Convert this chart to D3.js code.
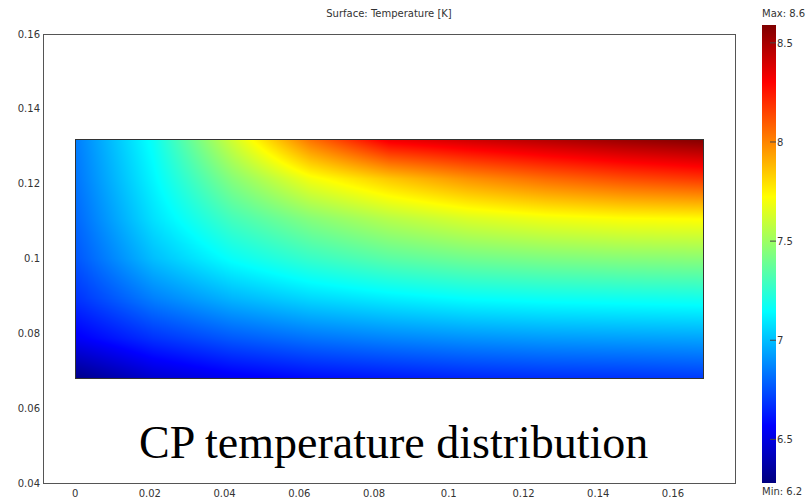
<!DOCTYPE html>
<html>
<head>
<meta charset="utf-8">
<script src="https://cdn.jsdelivr.net/npm/d3@7"></script>
<style>
  body { margin: 0; background: #fff; }
  text { font-family: "DejaVu Sans", sans-serif; }
</style>
</head>
<body>
<svg id="chart" width="812" height="501"></svg>
<script>
// tick labels
var xTicks = [0, 0.02, 0.04, 0.06, 0.08, 0.1, 0.12, 0.14, 0.16];
var yTicks = [0.04, 0.06, 0.08, 0.1, 0.12, 0.14, 0.16];
var barTicks = [6.5, 7, 7.5, 8, 8.5];

// sample points of the surface (m)
var gridX = [0, 0.021, 0.042, 0.063, 0.084, 0.105, 0.126, 0.147, 0.168];
var gridY = [0.132, 0.121, 0.111, 0.100, 0.089, 0.079, 0.068];

// temperature [K] at each sample, one row per gridY
var temps = [
  [6.85, 7.17, 7.62, 8.05, 8.35, 8.42, 8.48, 8.54, 8.59],
  [6.83, 7.13, 7.45, 7.70, 7.85, 7.97, 8.06, 8.13, 8.18],
  [6.80, 7.08, 7.30, 7.45, 7.56, 7.64, 7.69, 7.72, 7.73],
  [6.76, 7.00, 7.16, 7.27, 7.35, 7.40, 7.43, 7.45, 7.46],
  [6.68, 6.86, 6.98, 7.06, 7.11, 7.15, 7.17, 7.18, 7.19],
  [6.55, 6.68, 6.77, 6.83, 6.87, 6.90, 6.92, 6.93, 6.94],
  [6.30, 6.46, 6.54, 6.59, 6.62, 6.65, 6.67, 6.68, 6.70]
];

var tMin = 6.28, tMax = 8.59;

var svg = d3.select("#chart");

var x = d3.scaleLinear().domain([-0.0086, 0.1766]).range([43, 735]);
var y = d3.scaleLinear().domain([0.04, 0.16]).range([483, 34]);

// jet colour map
var jetStops = [0, 0.125, 0.375, 0.625, 0.875, 1];
var jetColors = ["#00007f", "#0000ff", "#00ffff", "#ffff00", "#ff0000", "#7f0000"];
var color = d3.scaleLinear()
    .domain(jetStops.map(function(f) { return tMin + f * (tMax - tMin); }))
    .range(jetColors)
    .clamp(true);

// frame
svg.append("rect")
    .attr("x", 43.5)
    .attr("y", 34.5)
    .attr("width", 735 - 43)
    .attr("height", 483 - 34)
    .attr("fill", "none")
    .attr("stroke", "#555");

// surface, shaded per pixel between the samples
var px0 = Math.round(x(gridX[0])), px1 = Math.round(x(gridX[gridX.length - 1]));
var py0 = Math.round(y(gridY[0])), py1 = Math.round(y(gridY[gridY.length - 1]));
var cw = px1 - px0, ch = py1 - py0;
var canvas = document.createElement("canvas");
canvas.width = cw;
canvas.height = ch;
var ctx = canvas.getContext("2d");
var img = ctx.createImageData(cw, ch);

function bilinear(xv, yv) {
  var fx = (xv - gridX[0]) / (gridX[gridX.length - 1] - gridX[0]) * (gridX.length - 1);
  var fy = (yv - gridY[0]) / (gridY[gridY.length - 1] - gridY[0]) * (gridY.length - 1);
  fx = Math.max(0, Math.min(gridX.length - 1.0001, fx));
  fy = Math.max(0, Math.min(gridY.length - 1.0001, fy));
  var i = Math.floor(fx), j = Math.floor(fy);
  var u = fx - i, v = fy - j;
  var a = temps[j][i] * (1 - u) + temps[j][i + 1] * u;
  var b = temps[j + 1][i] * (1 - u) + temps[j + 1][i + 1] * u;
  return a * (1 - v) + b * v;
}

for (var r = 0; r < ch; r++) {
  for (var c = 0; c < cw; c++) {
    var t = bilinear(x.invert(px0 + c + 0.5), y.invert(py0 + r + 0.5));
    var rgb = d3.rgb(color(t));
    var k = (r * cw + c) * 4;
    img.data[k] = rgb.r;
    img.data[k + 1] = rgb.g;
    img.data[k + 2] = rgb.b;
    img.data[k + 3] = 255;
  }
}
ctx.putImageData(img, 0, 0);

svg.append("image")
    .attr("x", px0)
    .attr("y", py0)
    .attr("width", cw)
    .attr("height", ch)
    .attr("href", canvas.toDataURL());

svg.append("rect")
    .attr("x", px0 + 0.5)
    .attr("y", py0 + 0.5)
    .attr("width", cw)
    .attr("height", ch)
    .attr("fill", "none")
    .attr("stroke", "#333");

// axis labels
svg.selectAll(".xlab").data(xTicks)
  .enter().append("text")
    .attr("class", "xlab")
    .attr("x", function(d) { return x(d); })
    .attr("y", 497)
    .attr("text-anchor", "middle")
    .attr("font-size", 10)
    .attr("fill", "#333")
    .text(function(d) { return d3.format("~g")(d); });

svg.selectAll(".ylab").data(yTicks)
  .enter().append("text")
    .attr("class", "ylab")
    .attr("x", 40)
    .attr("y", function(d) { return y(d) + 3.5; })
    .attr("text-anchor", "end")
    .attr("font-size", 10)
    .attr("fill", "#333")
    .text(function(d) { return d3.format("~g")(d); });

svg.append("text")
    .attr("x", 389)
    .attr("y", 17)
    .attr("text-anchor", "middle")
    .attr("font-size", 10)
    .attr("fill", "#333")
    .text("Surface: Temperature [K]");

// colour bar
var cb = d3.scaleLinear().domain([tMin, tMax]).range([483, 25]);
var grad = svg.append("defs").append("linearGradient")
    .attr("id", "jet")
    .attr("x1", 0).attr("y1", 1).attr("x2", 0).attr("y2", 0);
grad.selectAll("stop").data(jetStops)
  .enter().append("stop")
    .attr("offset", function(d) { return d; })
    .attr("stop-color", function(d, i) { return jetColors[i]; });

svg.append("rect")
    .attr("x", 762)
    .attr("y", cb(tMax))
    .attr("width", 14)
    .attr("height", cb(tMin) - cb(tMax))
    .attr("fill", "url(#jet)");

svg.selectAll(".cbtick").data(barTicks)
  .enter().append("line")
    .attr("class", "cbtick")
    .attr("x1", 770).attr("x2", 776)
    .attr("y1", function(d) { return cb(d); })
    .attr("y2", function(d) { return cb(d); })
    .attr("stroke", "#444");

svg.selectAll(".cblab").data(barTicks)
  .enter().append("text")
    .attr("class", "cblab")
    .attr("x", 777)
    .attr("y", function(d) { return cb(d) + 4; })
    .attr("font-size", 10)
    .attr("fill", "#333")
    .text(function(d) { return d; });

svg.append("text")
    .attr("x", 762).attr("y", 17)
    .attr("font-size", 10).attr("fill", "#333")
    .text("Max: 8.6");

svg.append("text")
    .attr("x", 762).attr("y", 495)
    .attr("font-size", 10).attr("fill", "#333")
    .text("Min: 6.2");

// caption
svg.append("text")
    .attr("x", 139)
    .attr("y", 458)
    .style("font-family", "'Liberation Serif', serif")
    .attr("font-size", 46)
    .attr("fill", "#000")
    .text("CP temperature distribution");
</script>
</body>
</html>
